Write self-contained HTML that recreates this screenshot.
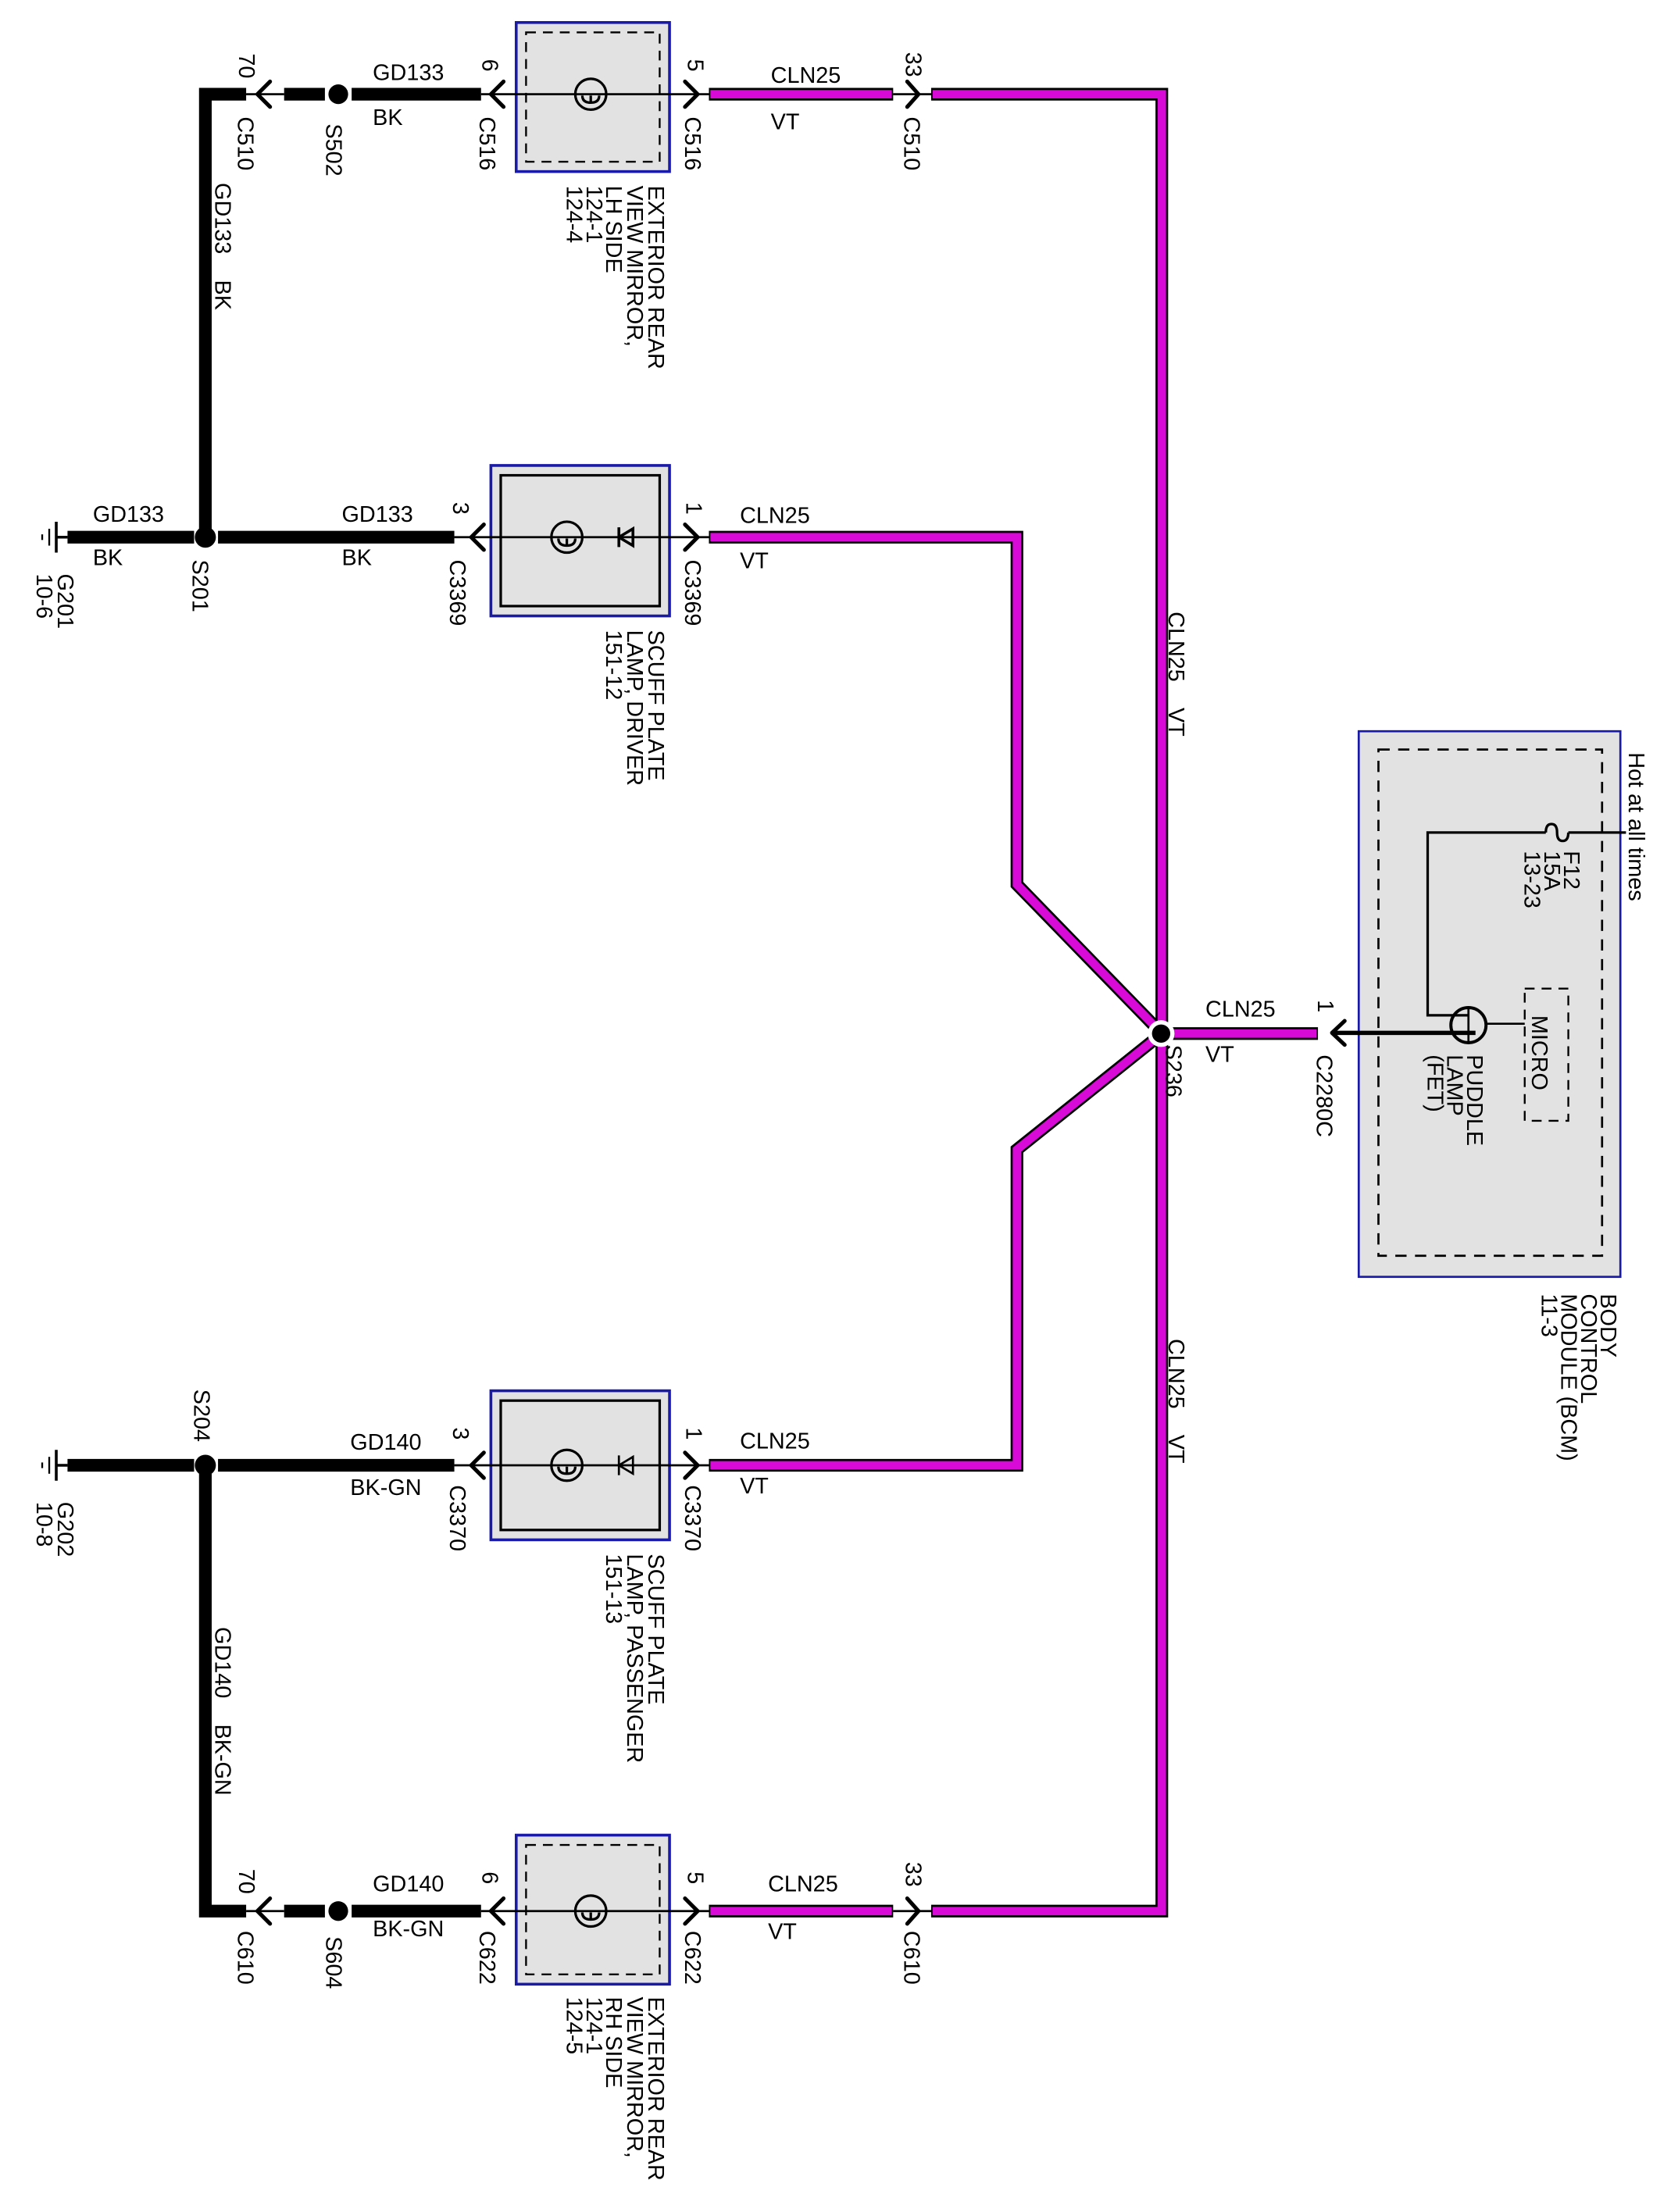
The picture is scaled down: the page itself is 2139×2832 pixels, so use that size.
<!DOCTYPE html>
<html><head><meta charset="utf-8"><style>
html,body{margin:0;padding:0;background:#fff;}
svg{display:block;}
text{font-family:"Liberation Sans",Arial,sans-serif;font-size:16px;fill:#000;}
</style></head><body>
<svg width="2139" height="2832" viewBox="0 0 1188 1573" preserveAspectRatio="none" xmlns="http://www.w3.org/2000/svg">
<rect x="0" y="0" width="1188" height="1573" fill="#fff"/>

<g>
  <rect x="367" y="16" width="109" height="106" fill="#e2e2e2" stroke="#1a1aa8" stroke-width="2"/>
  <rect x="374" y="23" width="95" height="92" fill="none" stroke="#000" stroke-width="1.3" stroke-dasharray="7,5"/>
  <rect x="349" y="331" width="127" height="107" fill="#e2e2e2" stroke="#1a1aa8" stroke-width="2"/>
  <rect x="356" y="338" width="113" height="93" fill="none" stroke="#000" stroke-width="1.8"/>
  <rect x="349" y="989" width="127" height="106" fill="#e2e2e2" stroke="#1a1aa8" stroke-width="2"/>
  <rect x="356" y="996" width="113" height="92" fill="none" stroke="#000" stroke-width="1.8"/>
  <rect x="367" y="1305" width="109" height="106" fill="#e2e2e2" stroke="#1a1aa8" stroke-width="2"/>
  <rect x="374" y="1312" width="95" height="92" fill="none" stroke="#000" stroke-width="1.3" stroke-dasharray="7,5"/>
  <rect x="966" y="520" width="186" height="388" fill="#e2e2e2" stroke="#1a1aa8" stroke-width="1.5"/>
  <rect x="980" y="533" width="159" height="360" fill="none" stroke="#000" stroke-width="1.5" stroke-dasharray="8,6"/>
  <rect x="1084" y="703" width="31" height="94" fill="none" stroke="#000" stroke-width="1.3" stroke-dasharray="7,5"/>
</g>

<g fill="none" stroke-linejoin="miter">
  <g stroke="#000" stroke-width="9">
    <path d="M504 67 H635"/>
    <path d="M662 67 H826 V1359 H662"/>
    <path d="M504 1359 H635"/>
    <path d="M504 382 H723 V629 L826 735"/>
    <path d="M504 1042 H723 V817.5 L826 735"/>
    <path d="M826 735 H937"/>
  </g>
  <g stroke="#d80ad8" stroke-width="6">
    <path d="M505 67 H634"/>
    <path d="M663 67 H826 V1359 H663"/>
    <path d="M505 1359 H634"/>
    <path d="M505 382 H723 V629 L826 735"/>
    <path d="M505 1042 H723 V817.5 L826 735"/>
    <path d="M826 735 H936"/>
  </g>
</g>
<circle cx="825.5" cy="735" r="9.5" fill="#fff"/>
<circle cx="825.5" cy="735" r="6.5" fill="#000"/>

<g fill="none" stroke="#000">
  <path d="M175 67 H146 V376" stroke-width="9"/>
  <path d="M146 1048 V1359 H175" stroke-width="9"/>
  <path d="M202 67 H231" stroke-width="9"/>
  <path d="M250 67 H342" stroke-width="9"/>
  <path d="M202 1359 H231" stroke-width="9"/>
  <path d="M250 1359 H342" stroke-width="9"/>
  <path d="M48 382 H138 M155 382 H323" stroke-width="9"/>
  <path d="M48 1042 H138 M155 1042 H323" stroke-width="9"/>
  <path d="M175 67 H202 M342 67 H504 M175 1359 H202 M342 1359 H504 M323 382 H504 M323 1042 H504 M635 67 H662 M635 1359 H662" stroke-width="1.5"/>
</g>
<g fill="#000">
  <circle cx="240.5" cy="67" r="7"/>
  <circle cx="240.5" cy="1359" r="7"/>
  <circle cx="146" cy="382" r="7.5"/>
  <circle cx="146" cy="1042" r="7.5"/>
</g>

<g fill="none" stroke="#000" stroke-width="2.8" stroke-linecap="round" stroke-linejoin="round">
  <path d="M192 58 L183 67 L192 76"/>
  <path d="M358 58 L349 67 L358 76"/>
  <path d="M487 58 L496 67 L487 76"/>
  <path d="M645 58 L653 67 L645 76"/>
  <path d="M192 1350 L183 1359 L192 1368"/>
  <path d="M358 1350 L349 1359 L358 1368"/>
  <path d="M487 1350 L496 1359 L487 1368"/>
  <path d="M645 1350 L653 1359 L645 1368"/>
  <path d="M344 373 L335 382 L344 391"/>
  <path d="M487 373 L496 382 L487 391"/>
  <path d="M344 1033 L335 1042 L344 1051"/>
  <path d="M487 1033 L496 1042 L487 1051"/>
  <path d="M956 726 L947 734.5 L956 743"/>
</g>

<g fill="none" stroke="#000" stroke-width="1.8">
  <circle cx="420" cy="67" r="11"/>
  <path d="M414 68 q0 5 6 5 q6 0 6 -5 M420 73 v-5"/>
  <circle cx="420" cy="1359" r="11"/>
  <path d="M414 1360 q0 5 6 5 q6 0 6 -5 M420 1365 v-5"/>
  <circle cx="403" cy="382" r="11"/>
  <path d="M397 383 q0 5 6 5 q6 0 6 -5 M403 388 v-5"/>
  <circle cx="403" cy="1042" r="11"/>
  <path d="M397 1043 q0 5 6 5 q6 0 6 -5 M403 1048 v-5"/>
  <path d="M440 375 V389 M440 382 L450 376 V388 Z" stroke-width="2"/>
  <path d="M440 1035 V1049 M440 1042 L450 1036 V1048 Z" stroke-width="1.5"/>
</g>

<g stroke="#000" fill="none">
  <path d="M40 382 H48 M40 371 V393" stroke-width="2"/>
  <path d="M35 376 V388" stroke-width="1.3"/>
  <path d="M30 380 V384" stroke-width="1.3"/>
  <path d="M40 1042 H48 M40 1031 V1053" stroke-width="2"/>
  <path d="M35 1036 V1048" stroke-width="1.3"/>
  <path d="M30 1040 V1044" stroke-width="1.3"/>
</g>

<g fill="none" stroke="#000">
  <path d="M1156 592 H1115 M1099 592 H1015 V722 H1044" stroke-width="1.8"/>
  <path d="M1099 592 q0 -6 4 -6 q4 0 4 6 q0 6 4 6 q4 0 4 -6" stroke-width="1.8"/>
  <circle cx="1044" cy="729" r="12.5" stroke-width="2.2"/>
  <path d="M1044 716 V742" stroke-width="1.5"/>
  <path d="M1056 728 H1084" stroke-width="1.5"/>
  <path d="M947 734.5 H1049" stroke-width="3"/>
</g>

<text x="265" y="57">GD133</text>
<text x="265" y="89">BK</text>
<text x="548" y="59">CLN25</text>
<text x="548" y="92">VT</text>
<text x="66" y="371">GD133</text>
<text x="66" y="402">BK</text>
<text x="243" y="371">GD133</text>
<text x="243" y="402">BK</text>
<text x="526" y="372">CLN25</text>
<text x="526" y="404">VT</text>
<text x="857" y="723">CLN25</text>
<text x="857" y="755">VT</text>
<text x="249" y="1031">GD140</text>
<text x="249" y="1063">BK-GN</text>
<text x="526" y="1030">CLN25</text>
<text x="526" y="1062">VT</text>
<text x="265" y="1345">GD140</text>
<text x="265" y="1377">BK-GN</text>
<text x="546" y="1345">CLN25</text>
<text x="546" y="1379">VT</text>

<g>
<text transform="translate(170,38) rotate(90)">70</text>
<text transform="translate(169,83) rotate(90)">C510</text>
<text transform="translate(232,88) rotate(90)">S502</text>
<text transform="translate(343,42) rotate(90)">6</text>
<text transform="translate(341,83) rotate(90)">C516</text>
<text transform="translate(489,42) rotate(90)">5</text>
<text transform="translate(487,83) rotate(90)">C516</text>
<text transform="translate(644,37) rotate(90)">33</text>
<text transform="translate(643,83) rotate(90)">C510</text>
<text transform="translate(461,132) rotate(90)">EXTERIOR REAR</text>
<text transform="translate(446,132) rotate(90)">VIEW MIRROR,</text>
<text transform="translate(431,132) rotate(90)">LH SIDE</text>
<text transform="translate(417,132) rotate(90)">124-1</text>
<text transform="translate(403,132) rotate(90)">124-4</text>
<text transform="translate(153,130) rotate(90)">GD133 <tspan dx="14">BK</tspan></text>

<text transform="translate(41,408) rotate(90)">G201</text>
<text transform="translate(26,408) rotate(90)">10-6</text>
<text transform="translate(137,398) rotate(90)">S201</text>
<text transform="translate(322,357) rotate(90)">3</text>
<text transform="translate(320,398) rotate(90)">C3369</text>
<text transform="translate(488,357) rotate(90)">1</text>
<text transform="translate(487,398) rotate(90)">C3369</text>
<text transform="translate(461,448) rotate(90)">SCUFF PLATE</text>
<text transform="translate(446,448) rotate(90)">LAMP, DRIVER</text>
<text transform="translate(431,448) rotate(90)">151-12</text>

<text transform="translate(831,435) rotate(90)">CLN25 <tspan dx="14">VT</tspan></text>
<text transform="translate(829,743) rotate(90)">S236</text>
<text transform="translate(937,711) rotate(90)">1</text>
<text transform="translate(936,750) rotate(90)">C2280C</text>

<text transform="translate(1158,535) rotate(90)">Hot at all times</text>
<text transform="translate(1112,605) rotate(90)">F12</text>
<text transform="translate(1098,605) rotate(90)">15A</text>
<text transform="translate(1084,605) rotate(90)">13-23</text>
<text transform="translate(1089,722) rotate(90)">MICRO</text>
<text transform="translate(1043,750) rotate(90)">PUDDLE</text>
<text transform="translate(1029,750) rotate(90)">LAMP</text>
<text transform="translate(1015,750) rotate(90)">(FET)</text>
<text transform="translate(1138,920) rotate(90)">BODY</text>
<text transform="translate(1124,920) rotate(90)">CONTROL</text>
<text transform="translate(1110,920) rotate(90)">MODULE (BCM)</text>
<text transform="translate(1096,920) rotate(90)">11-3</text>

<text transform="translate(831,952) rotate(90)">CLN25 <tspan dx="14">VT</tspan></text>

<text transform="translate(138,988) rotate(90)">S204</text>
<text transform="translate(41,1068) rotate(90)">G202</text>
<text transform="translate(26,1068) rotate(90)">10-8</text>
<text transform="translate(322,1015) rotate(90)">3</text>
<text transform="translate(320,1056) rotate(90)">C3370</text>
<text transform="translate(488,1015) rotate(90)">1</text>
<text transform="translate(487,1056) rotate(90)">C3370</text>
<text transform="translate(461,1105) rotate(90)">SCUFF PLATE</text>
<text transform="translate(446,1105) rotate(90)">LAMP, PASSENGER</text>
<text transform="translate(431,1105) rotate(90)">151-13</text>
<text transform="translate(153,1157) rotate(90)">GD140 <tspan dx="14">BK-GN</tspan></text>

<text transform="translate(170,1329) rotate(90)">70</text>
<text transform="translate(169,1373) rotate(90)">C610</text>
<text transform="translate(232,1377) rotate(90)">S604</text>
<text transform="translate(343,1331) rotate(90)">6</text>
<text transform="translate(341,1373) rotate(90)">C622</text>
<text transform="translate(489,1331) rotate(90)">5</text>
<text transform="translate(487,1373) rotate(90)">C622</text>
<text transform="translate(644,1324) rotate(90)">33</text>
<text transform="translate(643,1373) rotate(90)">C610</text>
<text transform="translate(461,1420) rotate(90)">EXTERIOR REAR</text>
<text transform="translate(446,1420) rotate(90)">VIEW MIRROR,</text>
<text transform="translate(431,1420) rotate(90)">RH SIDE</text>
<text transform="translate(417,1420) rotate(90)">124-1</text>
<text transform="translate(403,1420) rotate(90)">124-5</text>
</g>
</svg>
</body></html>
